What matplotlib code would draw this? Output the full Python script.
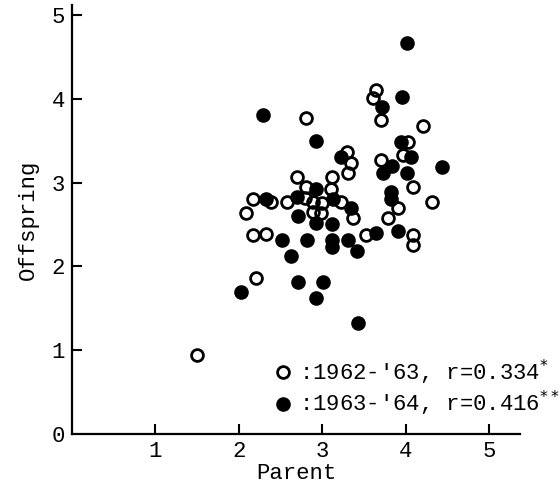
import matplotlib
matplotlib.use("Agg")
import matplotlib.pyplot as plt
from matplotlib.lines import Line2D

plt.rcParams["font.family"] = ["Liberation Mono", "DejaVu Sans Mono"]

# 1962-'63 (open circles): parent, offspring
open_parent = [1.50, 2.20, 2.09, 2.17, 2.38, 2.17, 2.32, 2.58, 2.70, 2.80,
               2.80, 2.79, 2.89, 3.00, 2.89, 2.98, 3.12, 3.10, 3.22, 3.37,
               3.30, 3.34, 3.31, 3.52, 3.64, 3.61, 3.70, 3.70, 3.91, 3.79,
               4.09, 4.09, 4.09, 4.21, 4.32, 4.03, 3.97]
open_offspring = [0.94, 1.86, 2.64, 2.80, 2.77, 2.38, 2.39, 2.77, 3.07, 3.77,
                  2.95, 2.82, 2.77, 2.76, 2.65, 2.64, 3.07, 2.92, 2.77, 2.58,
                  3.37, 3.24, 3.12, 2.37, 4.11, 4.01, 3.75, 3.27, 2.70, 2.58,
                  2.95, 2.38, 2.26, 3.68, 2.77, 3.49, 3.33]

# 1963-'64 (filled circles)
fill_parent = [2.02, 2.32, 2.29, 2.52, 2.62, 2.71, 2.92, 3.01, 2.70, 2.71,
               2.92, 2.93, 2.93, 2.82, 3.13, 3.12, 3.12, 3.12, 3.31, 3.42,
               3.34, 3.22, 3.43, 3.64, 3.91, 3.82, 3.82, 3.72, 3.84, 3.73,
               3.95, 4.02, 3.94, 4.06, 4.02, 4.44]
fill_offspring = [1.69, 2.80, 3.81, 2.31, 2.12, 1.81, 1.62, 1.81, 2.83, 2.60,
                  2.92, 2.52, 3.50, 2.31, 2.81, 2.51, 2.32, 2.23, 2.32, 2.19,
                  2.70, 3.31, 1.33, 2.40, 2.42, 2.89, 2.80, 3.90, 3.20, 3.12,
                  4.02, 4.67, 3.49, 3.31, 3.12, 3.19]

x_ticks = [1, 2, 3, 4, 5]
y_ticks = [0, 1, 2, 3, 4, 5]
labels = [":1962-'63, r=0.334$^{*}$", ":1963-'64, r=0.416$^{**}$"]

fig = plt.figure(figsize=(5.6, 4.87), dpi=100)
ax = fig.add_axes([72 / 560, 53 / 487, 448 / 560, 429 / 487])

ax.plot(fill_parent, fill_offspring, "o", ms=8.5, mfc="black", mec="black", mew=2)
ax.plot(open_parent, open_offspring, "o", ms=8.5, mfc="none", mec="black", mew=2)

ax.set_xlim(0, 5.37)
ax.set_ylim(0, 5.12)
ax.set_xticks(x_ticks)
ax.set_yticks(y_ticks)
ax.tick_params(direction="in", length=7, width=1.5, labelsize=16, pad=5)
ax.yaxis.get_major_ticks()[0].tick1line.set_visible(False)
for side in ["top", "right"]:
    ax.spines[side].set_visible(False)
for side in ["left", "bottom"]:
    ax.spines[side].set_linewidth(1.6)

ax.set_xlabel("Parent", fontsize=16, labelpad=1)
ax.set_ylabel("Offspring", fontsize=16, labelpad=9)

handles = [
    Line2D([], [], ls="none", marker="o", ms=8.5, mfc="none", mec="black", mew=2),
    Line2D([], [], ls="none", marker="o", ms=8.5, mfc="black", mec="black", mew=2),
]
ax.legend(handles, labels, loc="lower left", bbox_to_anchor=(0.417, 0.0),
          frameon=False, handlelength=0.8, handletextpad=0.3,
          labelspacing=0.1, fontsize=16, borderaxespad=0.3)

fig.savefig("out.png", dpi=100)
